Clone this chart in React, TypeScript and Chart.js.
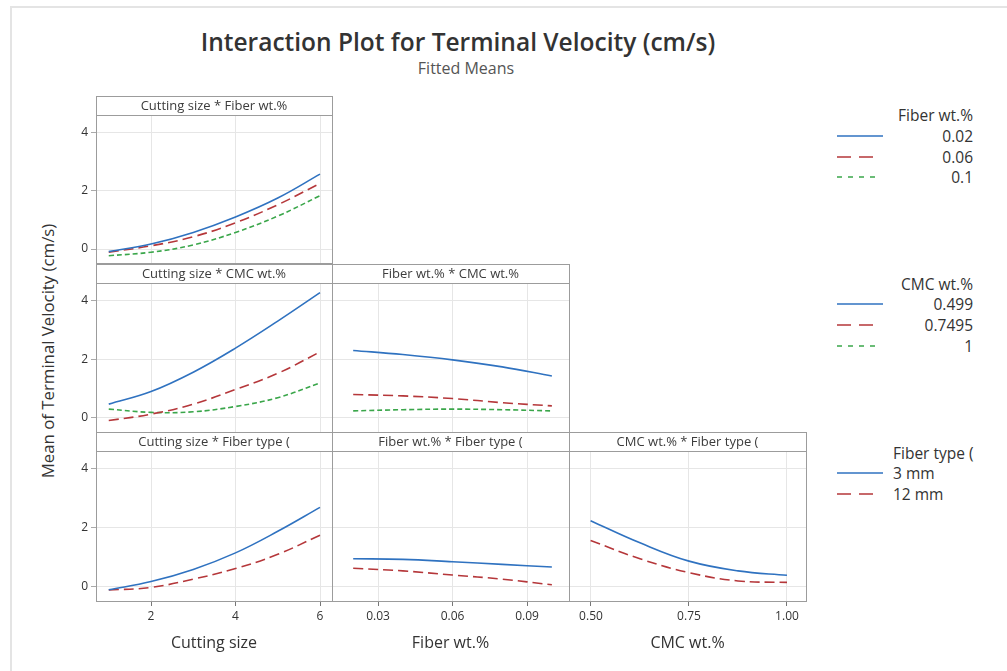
import React, { useEffect, useRef } from "react";
import { Chart, registerables } from "chart.js";
Chart.register(...registerables);

// ---------- data ----------
const cuttingSize = [1, 2, 3, 4, 5, 6];
const fiberWt = [0.02, 0.04, 0.06, 0.08, 0.1];
const cmcWt = [0.499, 0.625, 0.75, 0.875, 1.0];

const fiberLevels = ["0.02", "0.06", "0.1"];
const cmcLevels = ["0.499", "0.7495", "1"];
const typeLevels = ["3 mm", "12 mm"];

// Cutting size * Fiber wt.%
const csFiber002 = [-0.09, 0.17, 0.57, 1.1, 1.75, 2.57];
const csFiber006 = [-0.11, 0.11, 0.42, 0.9, 1.52, 2.25];
const csFiber010 = [-0.23, -0.11, 0.14, 0.57, 1.13, 1.83];
// Cutting size * CMC wt.%
const csCmc0499 = [0.47, 0.9, 1.56, 2.38, 3.3, 4.27];
const csCmc07495 = [-0.09, 0.13, 0.47, 0.97, 1.52, 2.25];
const csCmc1 = [0.3, 0.19, 0.21, 0.39, 0.69, 1.19];
// Cutting size * Fiber type
const csType3 = [-0.1, 0.18, 0.59, 1.15, 1.88, 2.69];
const csType12 = [-0.11, -0.02, 0.26, 0.62, 1.1, 1.75];
// Fiber wt.% * CMC wt.%
const fwCmc0499 = [2.3, 2.16, 1.98, 1.74, 1.43];
const fwCmc07495 = [0.8, 0.75, 0.66, 0.52, 0.41];
const fwCmc1 = [0.24, 0.28, 0.3, 0.28, 0.24];
// Fiber wt.% * Fiber type
const fwType3 = [0.95, 0.93, 0.85, 0.76, 0.67];
const fwType12 = [0.63, 0.54, 0.4, 0.26, 0.07];
// CMC wt.% * Fiber type
const cmcType3 = [2.24, 1.49, 0.87, 0.54, 0.39];
const cmcType12 = [1.57, 0.95, 0.48, 0.2, 0.15];

const yTicks = [0, 2, 4];
const csTicks = [2, 4, 6];
const fwTicks = [0.03, 0.06, 0.09];
const cmcTicks = [0.5, 0.75, 1.0];

// ---------- styles ----------
const FONT = '"Open Sans", "Noto Sans", sans-serif';
const BLUE = "#2f72c0";
const RED = "#b5373a";
const GREEN = "#3aa64a";
const SOLID: number[] = [];
const LONG = [10, 5];
const SHORT = [5, 3];
const STYLES = [
  { color: BLUE, dash: SOLID },
  { color: RED, dash: LONG },
  { color: GREEN, dash: SHORT },
];

const COL_X = [96, 332, 569, 806];
const ROW_Y = [96, 264, 432];
const PLOT_BOTTOM = [263, 432, 601];
const HEADER = 19;
const Y_MIN = -0.48;
const Y_MAX = 4.6;

type PanelDef = {
  title: string;
  row: number;
  col: number;
  xs: number[];
  series: { label: string; values: number[] }[];
  xMin: number;
  xMax: number;
  xTicks: number[];
  fmt: (v: number) => string;
  xTitle: string;
};

const fmtInt = (v: number) => String(v);
const fmt2 = (v: number) => v.toFixed(2);

const PANELS: PanelDef[] = [
  {
    title: "Cutting size * Fiber wt.%", row: 0, col: 0, xs: cuttingSize,
    series: [
      { label: fiberLevels[0], values: csFiber002 },
      { label: fiberLevels[1], values: csFiber006 },
      { label: fiberLevels[2], values: csFiber010 },
    ],
    xMin: 0.698, xMax: 6.284, xTicks: csTicks, fmt: fmtInt, xTitle: "Cutting size",
  },
  {
    title: "Cutting size * CMC wt.%", row: 1, col: 0, xs: cuttingSize,
    series: [
      { label: cmcLevels[0], values: csCmc0499 },
      { label: cmcLevels[1], values: csCmc07495 },
      { label: cmcLevels[2], values: csCmc1 },
    ],
    xMin: 0.698, xMax: 6.284, xTicks: csTicks, fmt: fmtInt, xTitle: "Cutting size",
  },
  {
    title: "Cutting size * Fiber type (", row: 2, col: 0, xs: cuttingSize,
    series: [
      { label: typeLevels[0], values: csType3 },
      { label: typeLevels[1], values: csType12 },
    ],
    xMin: 0.698, xMax: 6.284, xTicks: csTicks, fmt: fmtInt, xTitle: "Cutting size",
  },
  {
    title: "Fiber wt.% * CMC wt.%", row: 1, col: 1, xs: fiberWt,
    series: [
      { label: cmcLevels[0], values: fwCmc0499 },
      { label: cmcLevels[1], values: fwCmc07495 },
      { label: cmcLevels[2], values: fwCmc1 },
    ],
    xMin: 0.01147, xMax: 0.1069, xTicks: fwTicks, fmt: fmt2, xTitle: "Fiber wt.%",
  },
  {
    title: "Fiber wt.% * Fiber type (", row: 2, col: 1, xs: fiberWt,
    series: [
      { label: typeLevels[0], values: fwType3 },
      { label: typeLevels[1], values: fwType12 },
    ],
    xMin: 0.01147, xMax: 0.1069, xTicks: fwTicks, fmt: fmt2, xTitle: "Fiber wt.%",
  },
  {
    title: "CMC wt.% * Fiber type (", row: 2, col: 2, xs: cmcWt,
    series: [
      { label: typeLevels[0], values: cmcType3 },
      { label: typeLevels[1], values: cmcType12 },
    ],
    xMin: 0.4439, xMax: 1.0485, xTicks: cmcTicks, fmt: fmt2, xTitle: "CMC wt.%",
  },
];

function framePlugin(title: string) {
  return {
    id: "frame",
    afterDraw(chart: any) {
      const { ctx, chartArea } = chart;
      const { left, right, top, bottom } = chartArea;
      const x0 = Math.round(left) + 0.5;
      const x1 = Math.round(right) + 0.5;
      const y0 = Math.round(top - HEADER) + 0.5;
      const y1 = Math.round(top) + 0.5;
      const y2 = Math.round(bottom) + 0.5;
      ctx.save();
      ctx.strokeStyle = "#9c9c9c";
      ctx.lineWidth = 1;
      ctx.strokeRect(x0, y0, x1 - x0, y2 - y0);
      ctx.beginPath();
      ctx.moveTo(x0, y1);
      ctx.lineTo(x1, y1);
      ctx.stroke();
      ctx.fillStyle = "#3c3c3c";
      ctx.font = `13px ${FONT}`;
      ctx.textAlign = "center";
      ctx.textBaseline = "middle";
      ctx.fillText(title, (left + right) / 2, top - HEADER / 2 + 1);
      ctx.restore();
    },
  };
}

function Panel({ p }: { p: PanelDef }) {
  const ref = useRef<HTMLCanvasElement | null>(null);
  const firstCol = p.col === 0;
  const bottomRow = p.row === 2;
  const left = firstCol ? 56 : COL_X[p.col];
  const yW = firstCol ? COL_X[0] - 56 : 0;
  const width = COL_X[p.col + 1] + 1 - left;
  const top = ROW_Y[p.row];
  const xH = bottomRow ? 60 : 0;
  const height = PLOT_BOTTOM[p.row] - top + xH + 1;

  useEffect(() => {
    if (!ref.current) return;
    const chart = new Chart(ref.current, {
      type: "line",
      data: {
        datasets: p.series.map((s, i) => ({
          label: s.label,
          data: p.xs.map((x, j) => ({ x, y: s.values[j] })),
          borderColor: STYLES[i].color,
          borderDash: STYLES[i].dash,
          borderWidth: 1.6,
          pointRadius: 0,
          fill: false,
          tension: 0.4,
        })),
      },
      options: {
        responsive: false,
        animation: false,
        devicePixelRatio: 1,
        layout: { padding: { top: HEADER, right: 1, bottom: 1, left: 0 } },
        plugins: { legend: { display: false }, tooltip: { enabled: false } },
        scales: {
          x: {
            type: "linear",
            min: p.xMin,
            max: p.xMax,
            afterBuildTicks: (s: any) => {
              s.ticks = p.xTicks.map((v) => ({ value: v }));
            },
            afterFit: (s: any) => {
              s.height = xH;
              s.paddingLeft = 0;
              s.paddingRight = 0;
            },
            border: { display: false },
            grid: { color: "#e6e6e6", lineWidth: 1, drawTicks: bottomRow, tickLength: 5, tickColor: "#777" },
            ticks: {
              display: bottomRow,
              padding: 3,
              color: "#333",
              maxRotation: 0,
              font: { family: FONT, size: 12 },
              callback: (v: any) => p.fmt(Number(v)),
            },
            title: {
              display: bottomRow,
              text: p.xTitle,
              color: "#333",
              font: { family: FONT, size: 16 },
              padding: { top: 8, bottom: 8 },
            },
          },
          y: {
            type: "linear",
            min: Y_MIN,
            max: Y_MAX,
            afterBuildTicks: (s: any) => {
              s.ticks = yTicks.map((v) => ({ value: v }));
            },
            afterFit: (s: any) => {
              s.width = yW;
              s.paddingTop = 0;
              s.paddingBottom = 0;
            },
            border: { display: false },
            grid: { color: "#e6e6e6", lineWidth: 1, drawTicks: firstCol, tickLength: 5, tickColor: "#aaa" },
            ticks: {
              display: firstCol,
              padding: 3,
              color: "#333",
              font: { family: FONT, size: 12 },
              callback: (v: any) => String(v),
            },
          },
        },
      },
      plugins: [framePlugin(p.title)],
    } as any);
    return () => chart.destroy();
  }, []);

  return (
    <canvas
      ref={ref}
      width={width}
      height={height}
      style={{ position: "absolute", left, top, width, height }}
    />
  );
}

const LEG_DASH = ["", "14 8", "5 6"];
const LEG_LEN = [46, 36, 38];

function LegendLine({ i, x, y }: { i: number; x: number; y: number }) {
  return (
    <svg style={{ position: "absolute", left: x, top: y - 3 }} width={48} height={6}>
      <line x1={1} y1={3} x2={1 + LEG_LEN[i]} y2={3} stroke={STYLES[i].color} strokeWidth={1.6} strokeDasharray={LEG_DASH[i]} />
    </svg>
  );
}

function Legend({ title, items, ys, titleY, alignLeft }: { title: string; items: string[]; ys: number[]; titleY: number; alignLeft?: boolean }) {
  const txt = (t: string, y: number, key: string) => (
    <div
      key={key}
      style={{
        position: "absolute",
        top: y - 10,
        height: 20,
        lineHeight: "20px",
        fontSize: 15.5,
        color: "#333",
        whiteSpace: "nowrap",
        ...(alignLeft ? { left: 893 } : { right: 1007 - 973, textAlign: "right" as const }),
      }}
    >
      {t}
    </div>
  );
  return (
    <>
      {txt(title, titleY, "t")}
      {items.map((it, i) => (
        <React.Fragment key={it}>
          <LegendLine i={i} x={836} y={ys[i]} />
          {txt(it, ys[i], "i" + i)}
        </React.Fragment>
      ))}
    </>
  );
}

export default function App() {
  return (
    <div
      style={{
        position: "fixed",
        left: 0,
        top: 0,
        width: 1007,
        height: 671,
        background: "#fff",
        overflow: "hidden",
        fontFamily: FONT,
      }}
    >
      <div style={{ position: "absolute", left: 10, top: 6, width: 1010, height: 700, border: "2px solid #e4e4e4" }} />
      <div
        style={{
          position: "absolute", left: 0, width: 916, top: 26, height: 32, lineHeight: "32px",
          textAlign: "center", fontSize: 24.5, fontWeight: 600, color: "#333", whiteSpace: "nowrap",
        }}
      >
        Interaction Plot for Terminal Velocity (cm/s)
      </div>
      <div
        style={{
          position: "absolute", left: 0, width: 932, top: 58, height: 20, lineHeight: "20px",
          textAlign: "center", fontSize: 16, color: "#555", whiteSpace: "nowrap",
        }}
      >
        Fitted Means
      </div>
      <div
        style={{
          position: "absolute", left: 48 - 200, top: 351 - 10, width: 400, height: 20, lineHeight: "20px",
          textAlign: "center", fontSize: 16.8, color: "#333", transform: "rotate(-90deg)", whiteSpace: "nowrap",
        }}
      >
        Mean of Terminal Velocity (cm/s)
      </div>
      {PANELS.map((p) => (
        <Panel key={p.title} p={p} />
      ))}
      <Legend title="Fiber wt.%" items={fiberLevels} titleY={115} ys={[136, 157, 177]} />
      <Legend title="CMC wt.%" items={cmcLevels} titleY={284} ys={[304, 325, 346]} />
      <Legend title="Fiber type (" items={typeLevels} titleY={453} ys={[473, 494]} alignLeft />
    </div>
  );
}
